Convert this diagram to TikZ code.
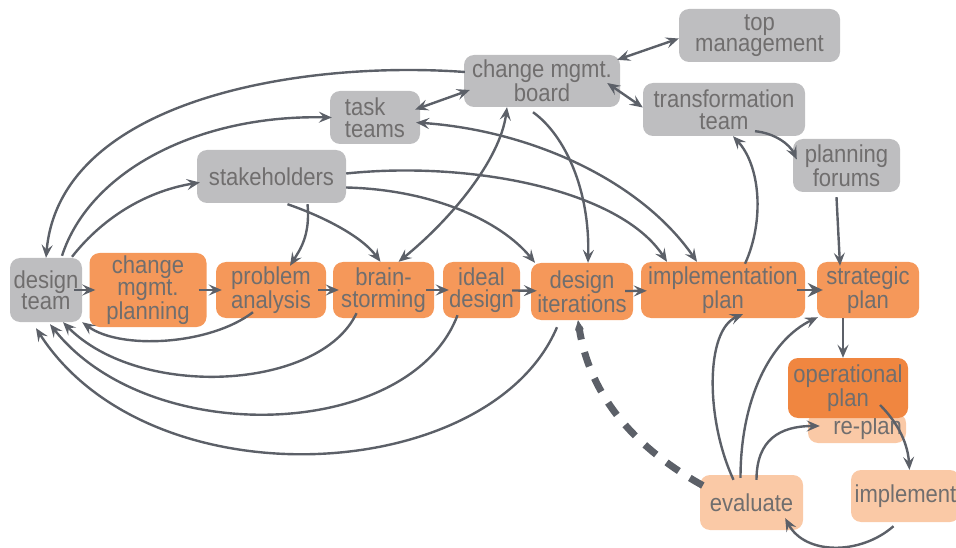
\documentclass[tikz,border=0pt]{standalone}
\usepackage{fontspec}
\setmainfont{Liberation Sans}[FakeStretch=0.9]
\usetikzlibrary{arrows.meta}
\definecolor{boxgray}{RGB}{190,190,192}
\definecolor{orng}{RGB}{245,152,90}
\definecolor{dorng}{RGB}{240,134,64}
\definecolor{lorng}{RGB}{250,201,166}
\definecolor{txtgray}{RGB}{112,110,110}
\definecolor{arrgray}{RGB}{92,96,104}

\begin{document}
\begin{tikzpicture}[x=1pt,y=-1pt,
        font=\fontsize{24.5}{21.5}\selectfont,
        >={Stealth[length=13pt,width=11pt,inset=5pt]},
        nbox/.style={rounded corners=10pt, inner sep=2pt, align=center, text=txtgray},
        gnode/.style={nbox, fill=boxgray},
        onode/.style={nbox, fill=orng},
        dnode/.style={nbox, fill=dorng},
        lnode/.style={nbox, fill=lorng},
        link/.style={draw=arrgray, line width=2.4pt, ->},
        both/.style={link, <->},
        flow/.style={link, shorten <=-8pt, shorten >=-6pt}]
        \clip (0,0) rectangle (956,548);
        % main row
        \node[gnode, minimum width=72, minimum height=64] (dteam) at (46,290) {design\\team};
        \node[onode, minimum width=117, minimum height=74] (cmplan) at (148,290) {change\\mgmt.\\planning};
        \node[onode, minimum width=110, minimum height=56] (panal) at (271,290) {problem\\analysis};
        \node[onode, minimum width=101, minimum height=56] (brain) at (383.5,290) {brain-\\storming};
        \node[onode, minimum width=77, minimum height=56] (ideal) at (481.5,290) {ideal\\design};
        \node[onode, minimum width=102, minimum height=57] (iter) at (582,291.5) {design\\iterations};
        \node[onode, minimum width=164, minimum height=56] (impl) at (723,290) {implementation\\plan};
        \node[onode, minimum width=102, minimum height=56] (strat) at (868,290) {strategic\\plan};
        % operational loop
        \node[lnode, minimum width=98, minimum height=30, text width=90, align=right] (replan) at (857,428) {re-plan};
        \node[dnode, minimum width=120, minimum height=60] (oper) at (848,388) {operational\\plan};
        \node[lnode, minimum width=109, minimum height=52] (imp) at (905.5,496) {implement};
        \node[lnode, minimum width=103, minimum height=55] (eval) at (751.5,502.5) {evaluate};
        % organisation
        \node[gnode, minimum width=149, minimum height=53] (stake) at (271.5,176.5) {stakeholders};
        \node[gnode, minimum width=90, minimum height=53, align=left] (task) at (375,117.5) {task\\teams};
        \node[gnode, minimum width=156, minimum height=52] (board) at (542,81) {change mgmt.\\board};
        \node[gnode, minimum width=161, minimum height=53] (topm) at (759.5,35.5) {top\\management};
        \node[gnode, minimum width=162, minimum height=53] (trans) at (724,109.5) {transformation\\team};
        \node[gnode, minimum width=107, minimum height=53] (pforum) at (846.5,165.5) {planning\\forums};

        \draw[flow] (dteam) -- (cmplan);
        \draw[flow] (cmplan) -- (panal);
        \draw[flow] (panal) -- (brain);
        \draw[flow] (brain) -- (ideal);
        \draw[flow] (ideal) -- (iter);
        \draw[flow] (iter) -- (impl);
        \draw[flow, -{Stealth[length=15pt,width=14pt,inset=5pt]}] (impl) -- (strat);
        \draw[link] ([xshift=-25pt]strat.south) -- ([xshift=-5pt]oper.north);

        % back to the design team
        \draw[link] ([shift={(1,-9)}]board.west) .. controls +(-165,-12) and +(14,-158) .. (dteam.north);
        \draw[link] ([shift={(16,-2)}]dteam.north) .. controls +(28,-86) and +(-132,-3) .. ([shift={(2,0)}]task.west);
        \draw[link] ([shift={(26,-1)}]dteam.north) .. controls +(33,-42) and +(-50,8) .. ([shift={(3,6)}]stake.west);
        \draw[link] ([shift={(-18,-6)}]panal.south) .. controls +(-43,33) and +(38,28) .. (dteam.south east);
        \draw[link] ([shift={(-27,-5)}]brain.south) .. controls +(-36,77) and +(77,78) .. ([shift={(17,0)}]dteam.south);
        \draw[link] ([shift={(-24,-3)}]ideal.south) .. controls +(-47,125) and +(100,126) .. ([shift={(4,2)}]dteam.south);
        \draw[link] ([shift={(-25,7)}]iter.south) .. controls +(-67,158) and +(114,177) .. ([shift={(-10,6)}]dteam.south);

        % from stakeholders and the board
        \draw[link] ([shift={(36,1)}]stake.south) .. controls +(3,31) and +(10,-16) .. ([shift={(19,4)}]panal.north);
        \draw[link] ([shift={(16,1)}]stake.south) .. controls +(32,11) and +(-20,-27) .. ([shift={(-3,0)}]brain.north);
        \draw[link] ([shift={(0,11)}]stake.east) .. controls +(84,2) and +(-35,-43) .. ([shift={(-47,0)}]iter.north);
        \draw[link] ([shift={(0,-3)}]stake.east) .. controls +(124,-13) and +(-47,-72) .. ([shift={(-56,0)}]impl.north);
        \draw[both] ([shift={(-4,5)}]task.east) .. controls +(114,8) and +(-57,-82) .. ([shift={(-26,0)}]impl.north);
        \draw[link] ([shift={(-9,5)}]board.south) .. controls +(32,23) and +(2,-73) .. ([shift={(6,0)}]iter.north);
        \draw[both] ([shift={(15,0)}]brain.north) .. controls +(52,-42) and +(-7,53) .. ([shift={(-35,0)}]board.south);
        \draw[both] ([shift={(-5,-8)}]task.east) -- ([shift={(6,9)}]board.west);
        \draw[both] ([shift={(-3,5)}]board.north east) -- ([shift={(0,3)}]topm.west);
        \draw[both] ([shift={(-13,2)}]board.east) -- ([shift={(0,-2)}]trans.west);
        \draw[link] ([shift={(31,-5)}]trans.south) .. controls +(20,2) and +(-7,-15) .. ([shift={(4,-6)}]pforum.west);
        \draw[link] ([shift={(-10,5)}]pforum.south) -- ([shift={(-28,4)}]strat.north);
        \draw[link] ([shift={(22,2)}]impl.north) .. controls +(20,-44) and +(27,29) .. ([shift={(9,0)}]trans.south);

        % evaluation loop
        \draw[link] ([shift={(-18,5)}]eval.north) .. controls +(-28,-60) and +(-38,16) .. ([shift={(20,-4)}]impl.south);
        \draw[link] ([shift={(-11,3)}]eval.north) .. controls +(0,-78) and +(-48,23) .. ([shift={(1,-1)}]strat.south west);
        \draw[link] ([shift={(5,5)}]eval.north) .. controls +(0,-40) and +(-40,0) .. ([shift={(12,-2)}]replan.west);
        \draw[link] ([shift={(-12,4)}]imp.south) .. controls +(-33,29) and +(20,37) .. ([shift={(-18,-12)}]eval.south east);
        \draw[link] ([shift={(32,17)}]oper.center) .. controls +(15,15) and +(-2,-30) .. ([shift={(4,0)}]imp.north);
        \draw[link, line width=7pt, dash pattern=on 15pt off 13pt,
            -{Stealth[length=10pt,width=9pt,inset=3pt,line width=0.6pt]}]
            ([shift={(3,-17)}]eval.west) .. controls +(-63,-35) and +(12,80) .. ([shift={(-4,0)}]iter.south);
    \end{tikzpicture}
\end{document}
